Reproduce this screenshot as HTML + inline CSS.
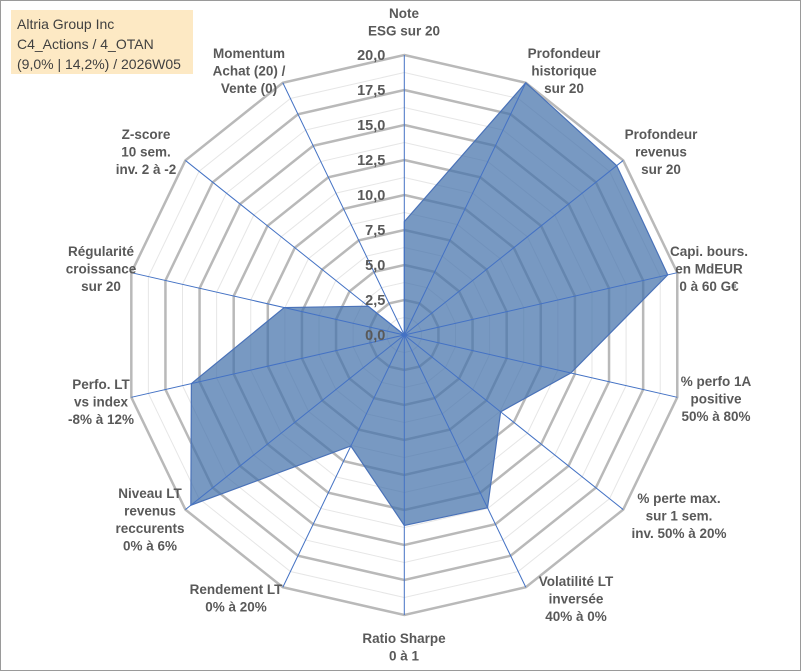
<!DOCTYPE html>
<html><head><meta charset="utf-8">
<style>
body{margin:0;background:#fff;font-family:"Liberation Sans",Arial,sans-serif;}
#wrap{position:relative;width:801px;height:671px;box-sizing:border-box;border:1px solid #9a9a9a;background:#fff;overflow:hidden}
#title{position:absolute;left:10px;top:9px;width:182px;height:64px;background:#fde9c4;color:#404040;font-size:14px;line-height:20px;padding:4px 0 0 6px;box-sizing:border-box;font-family:"Liberation Sans",sans-serif}
</style></head><body>
<div id="wrap">
<svg id="chart" width="801" height="671" style="position:absolute;left:0;top:0"></svg>
<div id="title">Altria Group Inc<br>C4_Actions / 4_OTAN<br>(9,0% | 14,2%) / 2026W05</div>
</div>
<script>
const categories=[["Note","ESG sur 20"],["Profondeur","historique","sur 20"],["Profondeur","revenus","sur 20"],["Capi. bours.","en MdEUR","0 à 60 G€"],["% perfo 1A","positive","50% à 80%"],["% perte max.","sur 1 sem.","inv. 50% à 20%"],["Volatilité LT","inversée","40% à 0%"],["Ratio Sharpe","0 à 1"],["Rendement LT","0% à 20%"],["Niveau LT","revenus","reccurents","0% à 6%"],["Perfo. LT","vs index","-8% à 12%"],["Régularité","croissance","sur 20"],["Z-score","10 sem.","inv. 2 à -2"],["Momentum","Achat (20) /","Vente (0)"]];
const values=[8.1,20,19.4,19.3,12.2,8.8,13.7,13.6,8.8,19.5,15.6,8.8,3.3,0];
const tickLabels=["0,0","2,5","5,0","7,5","10,0","12,5","15,0","17,5","20,0"];
const tickValues=[0,2.5,5,7.5,10,12.5,15,17.5,20];
const maxV=20;
const cx=403.3,cy=334,R=280;
const svg=document.getElementById('chart');
const NS='http://www.w3.org/2000/svg';
const n=categories.length;
function ang(i){return i*2*Math.PI/n;}
function pt(i,v){const a=ang(i),r=v/maxV*R;return [cx+r*Math.sin(a),cy-r*Math.cos(a)];}
function mk(t,attrs){const e=document.createElementNS(NS,t);for(const k in attrs)e.setAttribute(k,attrs[k]);svg.appendChild(e);return e;}
for(let v=1.25;v<maxV;v+=2.5){const p=[];for(let i=0;i<n;i++)p.push(pt(i,v).join(','));
const e=mk('polygon',{points:p.join(' '),fill:'none',stroke:'#e6e6e6','stroke-width':1});

}
tickValues.forEach(v=>{if(v===0)return;const p=[];for(let i=0;i<n;i++)p.push(pt(i,v).join(','));
const e=mk('polygon',{points:p.join(' '),fill:'none',stroke:'#b9b9b9','stroke-width':2.5});

});
const sp=values.map((v,i)=>pt(i,v).join(','));
const poly=mk('polygon',{points:sp.join(' '),fill:'rgba(68,114,170,0.72)',stroke:'#4a72b8','stroke-width':1.2});


for(let i=0;i<n;i++){const [x,y]=pt(i,maxV);
const e=mk('line',{x1:cx,y1:cy,x2:x,y2:y,stroke:'#4472c4','stroke-width':1});

}
tickValues.forEach((v,k)=>{const t=mk('text',{x:cx-19,y:cy-v/maxV*R+5,'text-anchor':'end','font-size':14.5,'font-weight':'bold',fill:'#595959','font-family':'Liberation Sans, sans-serif'});t.textContent=tickLabels[k];

});
const lblPos=[[403,17],[563,57],[660,138],[708,255],[715,385],[678,502],[575,585],[403,642],[235,593],[149,497],[100,388],[100,255],[145,138],[248,57]];
categories.forEach((c,i)=>{const [x,y]=lblPos[i];
const t=mk('text',{x:x,y:y,'text-anchor':'middle','font-size':13.5,'font-weight':'bold',fill:'#595959','font-family':'Liberation Sans, sans-serif'});


c.forEach((line,j)=>{const s=document.createElementNS(NS,'tspan');s.setAttribute('x',x);s.setAttribute('dy',j===0?0:17.5);s.textContent=line;t.appendChild(s);});});
</script>
</body></html>
